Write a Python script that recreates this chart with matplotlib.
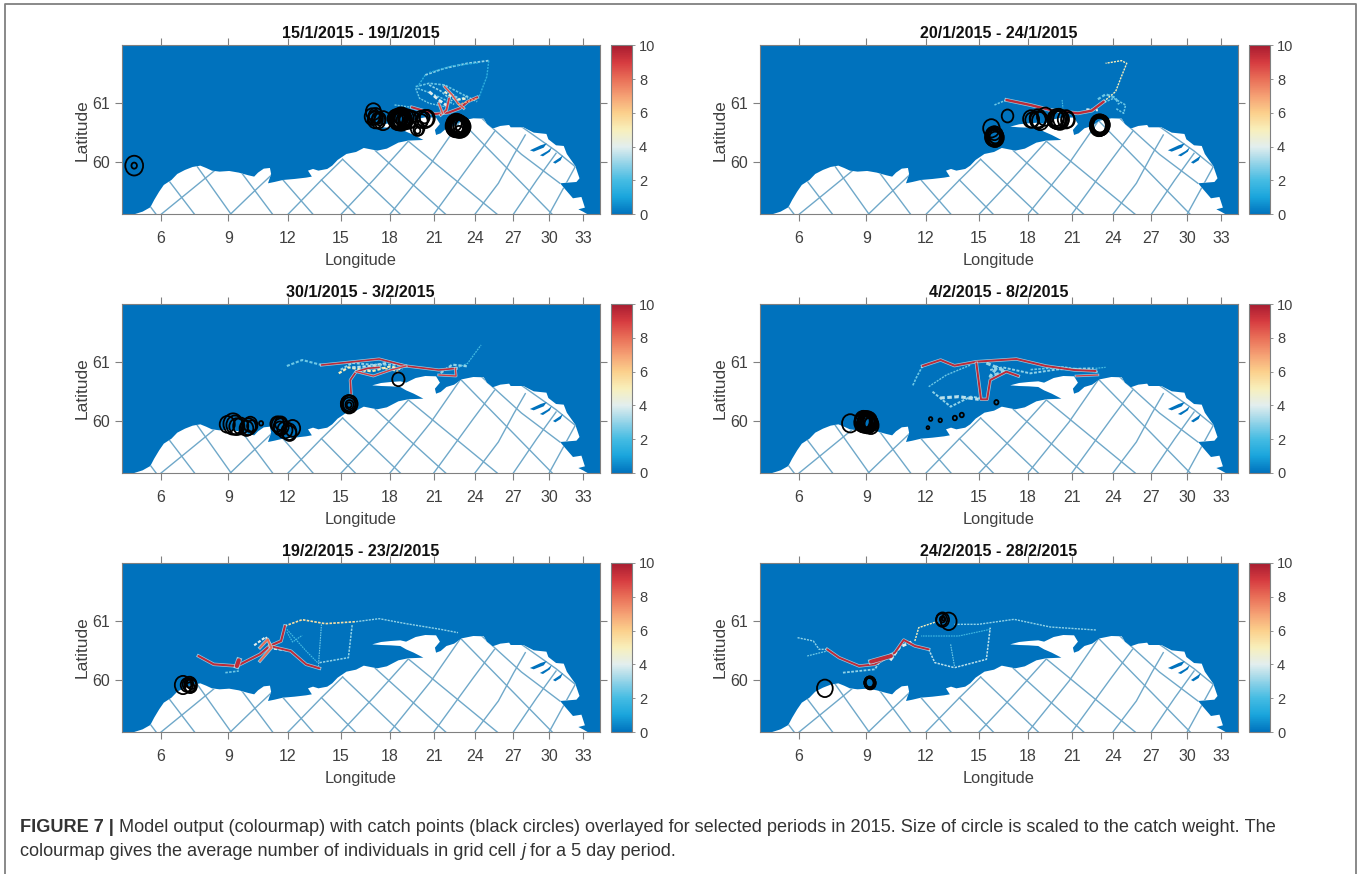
"""Model output maps with catch points for selected periods in 2015"""

import matplotlib
matplotlib.use('Agg')
import matplotlib.pyplot as plt
from matplotlib.colors import LinearSegmentedColormap, Normalize
from matplotlib.lines import Line2D
from matplotlib.patches import Polygon
from matplotlib.path import Path
from matplotlib.transforms import Affine2D

plt.rcParams['font.family'] = ['Liberation Sans', 'DejaVu Sans']

# map is in projected units, longitude ticks are not evenly spaced
MAP_W = 1243
MAP_H = 507
LON_POS = [103, 278, 433, 571, 698, 812, 919, 1019, 1112, 1200]
LON_LABELS = [6, 9, 12, 15, 18, 21, 24, 27, 30, 33]
LAT_POS = [156, 333]
LAT_LABELS = [60, 61]

TITLES = ['15/1/2015 - 19/1/2015', '20/1/2015 - 24/1/2015',
          '30/1/2015 - 3/2/2015', '4/2/2015 - 8/2/2015',
          '19/2/2015 - 23/2/2015', '24/2/2015 - 28/2/2015']

COAST = [(33, 0), (55, 8), (75, 21), (85, 43), (98, 68), (110, 88), (130, 103), (145, 121),
         (165, 133), (185, 142), (205, 146), (220, 139), (235, 131), (255, 128), (280, 130),
         (305, 125), (330, 117), (345, 113), (355, 125), (370, 137), (386, 139), (389, 121),
         (381, 93), (398, 97), (420, 103), (450, 106), (480, 110), (495, 113), (485, 131),
         (498, 136), (512, 131), (535, 136), (548, 146), (562, 163), (585, 181), (610, 187),
         (630, 199), (665, 191), (690, 197), (720, 215), (745, 221), (785, 223), (760, 238),
         (740, 248), (725, 258), (700, 260), (675, 261), (652, 263), (675, 270), (700, 273),
         (725, 275), (740, 271), (765, 285), (790, 291), (818, 290), (828, 271), (815, 253),
         (818, 238), (830, 243), (845, 258), (865, 265), (885, 281), (915, 288), (942, 287),
         (950, 271), (965, 257), (985, 265), (1008, 268), (1012, 261), (1045, 261), (1072, 245),
         (1105, 241), (1110, 225), (1130, 207), (1150, 205), (1158, 181), (1180, 145),
         (1191, 108), (1183, 97), (1140, 93), (1130, 108), (1150, 80), (1174, 48), (1196, 52),
         (1205, 20), (1188, 15), (1200, 8), (1212, 0)]

INLETS = [[(1062, 192), (1090, 207), (1106, 213), (1098, 200), (1072, 188)],
          [(1088, 177), (1108, 190), (1119, 201), (1114, 188), (1096, 174)],
          [(1122, 156), (1140, 170), (1148, 177), (1142, 162), (1128, 152)]]

GRID_LINES = [[(103, 0), (170, 63), (242, 131)], [(283, 0), (335, 58), (390, 118)],
              [(433, 0), (520, 103), (575, 165)], [(571, 0), (655, 103), (745, 218)],
              [(698, 0), (805, 153), (880, 278)], [(812, 0), (915, 163), (970, 248)],
              [(919, 0), (980, 93), (1020, 178), (1050, 238)], [(1019, 0), (1080, 103), (1130, 183)],
              [(1112, 0), (1180, 143)],
              [(75, 23), (90, 0)], [(125, 98), (190, 0)], [(197, 143), (285, 0)],
              [(310, 128), (393, 0)], [(420, 103), (498, 0)], [(520, 103), (608, 0)],
              [(575, 165), (725, 0)], [(660, 191), (843, 0)], [(745, 220), (977, 0)],
              [(880, 283), (1120, 0)], [(935, 290), (1040, 180), (1140, 93)],
              [(1040, 263), (1130, 190), (1180, 143)]]

# catch points as (x, y, size)
CATCH_1 = [(33, 146, 26), (33, 146, 8),
           (655, 308, 22), (652, 293, 22), (660, 283, 22), (680, 281, 25), (665, 288, 15),
           (657, 290, 18), (668, 280, 20), (661, 296, 20), (672, 286, 17),
           (720, 288, 25), (725, 283, 28), (730, 280, 25), (735, 283, 22), (745, 285, 25),
           (715, 283, 20), (725, 293, 20), (755, 285, 22), (733, 288, 15), (722, 286, 22),
           (728, 286, 26), (718, 280, 24), (732, 290, 24), (738, 278, 20), (712, 288, 22),
           (723, 278, 22), (727, 290, 27), (716, 286, 26), (740, 290, 22),
           (778, 285, 22), (795, 288, 22), (788, 290, 15), (780, 280, 18), (790, 286, 24),
           (770, 258, 20), (772, 253, 14), (770, 251, 8),
           (870, 268, 28), (875, 263, 28), (880, 265, 25), (888, 263, 22), (878, 248, 15),
           (865, 273, 22), (872, 266, 26), (877, 270, 25), (868, 260, 24), (882, 262, 28),
           (874, 258, 24), (886, 268, 20), (866, 265, 26), (871, 271, 27), (879, 259, 26),
           (869, 263, 28), (884, 265, 24), (873, 268, 22)]
CATCH_2 = [(645, 295, 17), (603, 258, 24),
           (611, 233, 25), (613, 238, 22), (609, 228, 22), (616, 233, 20), (611, 243, 18),
           (613, 225, 20), (606, 231, 22), (609, 236, 24), (614, 230, 24),
           (706, 286, 23), (724, 283, 23), (730, 280, 24), (743, 293, 24), (771, 290, 22),
           (776, 285, 26), (781, 283, 26), (797, 285, 24), (802, 283, 20), (774, 283, 24),
           (709, 283, 20), (724, 288, 24), (778, 288, 25), (770, 285, 24), (784, 286, 23),
           (885, 268, 24), (883, 270, 26), (887, 266, 26), (885, 263, 24), (889, 268, 24),
           (881, 266, 22), (885, 268, 20), (886, 272, 24), (884, 262, 24), (882, 264, 26),
           (888, 270, 25)]
CATCH_3 = [(720, 281, 18),
           (592, 206, 24), (592, 206, 18), (593, 205, 12), (592, 204, 7), (590, 208, 22),
           (594, 208, 22),
           (295, 144, 25), (275, 146, 22), (300, 139, 22), (290, 147, 28), (310, 141, 22),
           (330, 139, 22), (335, 146, 20), (325, 134, 20), (340, 141, 15), (363, 149, 6),
           (410, 144, 22), (415, 139, 22), (405, 147, 20), (415, 149, 18), (425, 129, 22),
           (437, 119, 20), (445, 134, 22), (435, 124, 22), (412, 134, 18)]
CATCH_4 = [(236, 149, 24),
           (270, 158, 25), (274, 154, 28), (278, 150, 26), (282, 146, 24), (286, 150, 22),
           (290, 142, 22), (284, 156, 24), (276, 160, 20), (268, 150, 24), (280, 156, 26),
           (272, 146, 22), (288, 154, 20), (274, 150, 21), (283, 151, 20), (278, 158, 23),
           (267, 155, 22), (291, 148, 20),
           (445, 162, 5), (470, 158, 5), (438, 136, 4), (508, 165, 6), (526, 174, 6), (616, 212, 6)]
CATCH_5 = [(160, 141, 24), (177, 143, 20), (180, 138, 18), (170, 141, 18), (178, 133, 14),
           (175, 148, 12), (182, 145, 14)]
CATCH_6 = [(170, 131, 23),
           (286, 148, 15), (288, 146, 16), (287, 150, 15), (285, 147, 13), (289, 149, 14),
           (287, 147, 16), (286, 150, 14),
           (476, 337, 19), (474, 337, 16), (492, 332, 23), (476, 338, 8), (478, 339, 4)]

# model tracks as (points, mean individuals per cell, line width)
TRACKS_1 = [([(765, 378), (775, 348), (800, 333), (840, 323)], 2.5, 1.0),
            ([(765, 383), (800, 393), (840, 388), (890, 358), (925, 338)], 2.5, 1.2),
            ([(790, 418), (840, 438), (900, 453), (955, 461)], 3.0, 1.3),
            ([(800, 425), (860, 445), (930, 455)], 1.5, 1.0),
            ([(955, 461), (950, 413), (930, 353)], 1.5, 1.0),
            ([(790, 418), (770, 383)], 1.5, 1.0),
            ([(710, 328), (755, 321)], 2.5, 1.0),
            ([(770, 378), (800, 365), (830, 350), (865, 330)], 2.5, 1.1),
            ([(800, 388), (830, 370), (860, 340)], 3, 1.2),
            ([(900, 355), (880, 345), (860, 360)], 3, 1.2),
            ([(800, 368), (825, 343), (850, 323)], 4, 2.0),
            ([(840, 368), (870, 343), (900, 348)], 4.5, 1.6),
            ([(755, 321), (785, 311), (815, 301), (850, 305), (880, 318), (900, 338), (925, 351)], 9.5, 1.5),
            ([(840, 383), (860, 358), (875, 333), (890, 318)], 8.5, 1.1),
            ([(852, 348), (845, 313), (830, 298)], 9, 1.3),
            ([(825, 333), (835, 303)], 8.5, 1.1),
            ([(875, 328), (925, 348)], 7, 1.1)]
TRACKS_2 = [([(880, 328), (921, 348), (952, 328), (947, 303), (926, 318)], 2.5, 1.1),
            ([(880, 345), (900, 360), (925, 350), (935, 330)], 2.5, 1.6),
            ([(850, 315), (880, 312)], 4, 1.5),
            ([(787, 343), (789, 318)], 2, 0.8),
            ([(611, 328), (642, 343)], 2.5, 1.1),
            ([(895, 338), (926, 368), (941, 413), (955, 453), (941, 461), (900, 453)], 5, 1.0),
            ([(642, 343), (704, 328), (756, 313), (828, 303), (864, 311), (895, 338)], 9.5, 1.7)]
TRACKS_3 = [([(430, 321), (470, 339), (520, 324)], 2.5, 1.5),
            ([(870, 314), (900, 329), (935, 384)], 2, 0.9),
            ([(565, 299), (590, 317), (650, 305), (700, 320), (730, 310)], 5, 1.6),
            ([(600, 317), (640, 320), (690, 330)], 3.5, 1.6),
            ([(570, 310), (600, 330), (650, 325), (730, 325)], 3, 1.4),
            ([(620, 300), (660, 320), (720, 305)], 5.5, 1.2),
            ([(830, 300), (860, 325), (900, 320)], 3, 1.6),
            ([(520, 324), (580, 331), (670, 342), (740, 321), (825, 309), (870, 314)], 9.5, 1.2),
            ([(825, 294), (870, 291), (868, 314)], 9, 1.0),
            ([(597, 239), (595, 279), (610, 304), (640, 314), (670, 317)], 9.5, 1.2),
            ([(610, 304), (655, 291), (700, 309), (740, 321)], 9, 1.0)]
TRACKS_4 = [([(424, 321), (409, 289), (398, 261)], 2.5, 1.2),
            ([(440, 259), (486, 294), (549, 324)], 2.5, 1.0),
            ([(450, 244), (497, 199), (549, 229), (580, 224)], 3, 1.4),
            ([(470, 225), (518, 229), (570, 221)], 3.5, 2.2),
            ([(600, 309), (632, 317), (704, 299), (776, 311), (869, 314)], 3, 1.4),
            ([(705, 310), (790, 318), (880, 303)], 2.5, 1.2),
            ([(590, 330), (640, 305), (600, 290), (620, 320)], 3, 2.2),
            ([(874, 314), (900, 317)], 2, 0.9),
            ([(424, 321), (471, 339), (507, 322), (564, 334), (668, 342), (745, 321), (818, 309), (874, 306)], 9.5, 1.4),
            ([(564, 329), (576, 221), (592, 221), (600, 279), (642, 304), (673, 291)], 9.5, 1.4),
            ([(823, 291), (880, 294)], 9, 0.9)]
TRACKS_5 = [([(610, 331), (670, 340), (740, 325), (830, 308), (875, 298)], 3, 1.0),
            ([(520, 323), (512, 198)], 2.5, 0.8),
            ([(515, 208), (590, 223), (600, 323)], 3, 1.1),
            ([(430, 308), (480, 243), (510, 208)], 2, 0.8),
            ([(430, 300), (445, 270), (470, 290)], 2, 0.8),
            ([(270, 178), (305, 183)], 2.5, 1.2),
            ([(425, 318), (470, 337), (530, 325), (610, 331)], 5.5, 1.2),
            ([(345, 260), (375, 285), (395, 250), (430, 245)], 4, 1.5),
            ([(200, 228), (240, 203), (300, 198), (360, 233), (385, 258), (415, 273), (425, 318)], 9.5, 1.5),
            ([(385, 258), (440, 243), (480, 203), (515, 191)], 9.5, 1.4),
            ([(300, 198), (305, 215)], 9.5, 3.0),
            ([(360, 253), (380, 278), (390, 253), (360, 213)], 8, 1.4)]
TRACKS_6 = [([(99, 283), (140, 273), (155, 248), (176, 248)], 3, 1.0),
            ([(124, 228), (176, 243)], 2.5, 0.9),
            ([(217, 178), (300, 188), (311, 208)], 3, 1.3),
            ([(340, 215), (365, 255), (395, 270)], 4, 2.0),
            ([(440, 248), (456, 208), (507, 193), (590, 218), (600, 313)], 3.5, 1.1),
            ([(404, 273), (414, 313), (466, 333)], 5, 1.0),
            ([(507, 323), (569, 323), (662, 338), (756, 315), (875, 306)], 3, 1.0),
            ([(497, 263), (507, 198)], 2.5, 0.8),
            ([(600, 308), (518, 288), (420, 288)], 2, 0.8),
            ([(176, 248), (207, 223), (259, 198), (300, 203), (352, 238), (375, 276), (404, 258), (440, 248)], 9.5, 1.4),
            ([(290, 211), (342, 228)], 9.5, 2.8)]

CATCHES = [CATCH_1, CATCH_2, CATCH_3, CATCH_4, CATCH_5, CATCH_6]
TRACKS = [TRACKS_1, TRACKS_2, TRACKS_3, TRACKS_4, TRACKS_5, TRACKS_6]

CMAP_COLORS = ['#0072bd', '#1aa5dc', '#45bce3', '#93d3e8', '#e2eeee', '#f8efbb',
               '#fbd08c', '#f5a074', '#e96f58', '#d63b40', '#a81c30']

LEFTS = [121.5, 759.5]
TOPS = [45.3, 304, 563]
AX_W = 478
AX_H = 169
FIG_W = 1359
FIG_H = 874
SEA = CMAP_COLORS[0]
TICK_COLOR = '#404040'

cmap = LinearSegmentedColormap.from_list('model', CMAP_COLORS)
norm = Normalize(0, 10)
ring = Path.unit_circle().transformed(Affine2D().scale(0.9, 1.0))

fig = plt.figure(figsize=(FIG_W / 100, FIG_H / 100), dpi=100)

for i, title in enumerate(TITLES):
    left = LEFTS[i % 2]
    top = TOPS[i // 2]
    ax = fig.add_axes([left / FIG_W, 1 - (top + AX_H) / FIG_H, AX_W / FIG_W, AX_H / FIG_H])
    ax.set_facecolor(SEA)
    ax.set_xlim(0, MAP_W)
    ax.set_ylim(0, MAP_H)

    land = Polygon(COAST, closed=True, facecolor='white', edgecolor='none', zorder=1)
    ax.add_patch(land)
    for g in GRID_LINES:
        xs, ys = zip(*g)
        line, = ax.plot(xs, ys, color='#6fa8c9', lw=1.0, zorder=2)
        line.set_clip_path(land)
    for inlet in INLETS:
        ax.add_patch(Polygon(inlet, closed=True, facecolor=SEA, edgecolor='none', zorder=3))

    for pts, value, width in TRACKS[i]:
        xs, ys = zip(*pts)
        if value >= 8:
            # dense strands have a paler fringe around the core
            ax.plot(xs, ys, color=cmap(norm(3.5)), lw=width + 1.0, zorder=4, alpha=0.8)
            ax.plot(xs, ys, color=cmap(norm(value)), lw=width, zorder=4, solid_capstyle='round')
        else:
            ax.plot(xs, ys, color=cmap(norm(value)), lw=width, zorder=4, ls=(0, (1.5, 0.8)))

    cx, cy, size = zip(*CATCHES[i])
    ax.scatter(cx, cy, s=[0.3 * r ** 2 for r in size], marker=ring, facecolors='none',
               edgecolors='black', linewidths=1.3, zorder=5)

    ax.set_xticks(LON_POS, LON_LABELS)
    ax.set_yticks(LAT_POS, LAT_LABELS)
    ax.tick_params(direction='out', length=5, width=0.8, color='#808080', labelcolor=TICK_COLOR,
                   labelsize=11.5, top=True, right=True, pad=7)
    ax.tick_params(axis='y', pad=3)
    for spine in ax.spines.values():
        spine.set_color('#808080')
        spine.set_linewidth(0.8)
    ax.set_xlabel('Longitude', fontsize=11.8, color=TICK_COLOR, labelpad=5)
    ax.set_ylabel('Latitude', fontsize=12.5, color=TICK_COLOR, labelpad=2)
    ax.set_title(title, fontsize=11.5, fontweight='bold', color='#111111', pad=5)

    cax = fig.add_axes([(left + 489.5) / FIG_W, 1 - (top + AX_H) / FIG_H, 21 / FIG_W, AX_H / FIG_H])
    sm = plt.cm.ScalarMappable(norm=norm, cmap=cmap)
    cb = fig.colorbar(sm, cax=cax, ticks=[0, 2, 4, 6, 8, 10])
    cb.ax.tick_params(length=2, width=0.6, color='#808080', labelcolor=TICK_COLOR, labelsize=10.5, pad=3)
    cb.outline.set_edgecolor('#808080')
    cb.outline.set_linewidth(0.8)

# page frame, open at the bottom
frame_x = [5 / FIG_W, 5 / FIG_W, 1356 / FIG_W, 1356 / FIG_W]
frame_y = [0, 1 - 4 / FIG_H, 1 - 4 / FIG_H, 0]
fig.add_artist(Line2D(frame_x, frame_y, color='#808080', lw=1.3))

# caption is built from runs so bold and italic parts can sit in the same line
renderer = fig.canvas.get_renderer()
CAPTION_1 = [('FIGURE 7 | ', 'bold', 'normal'),
             ('Model output (colourmap) with catch points (black circles) overlayed for selected '
              'periods in 2015. Size of circle is scaled to the catch weight. The', 'normal', 'normal')]
CAPTION_2 = [('colourmap gives the average number of individuals in grid cell ', 'normal', 'normal'),
             ('j', 'normal', 'italic'),
             (' for a 5 day period.', 'normal', 'normal')]
for runs, base in [(CAPTION_1, 832), (CAPTION_2, 856)]:
    x = 20
    for txt, weight, style in runs:
        t = fig.text(x / FIG_W, 1 - base / FIG_H, txt.replace(' ', '\u00a0'), fontsize=13.1,
                     fontweight=weight, fontstyle=style, color='#333333', va='baseline')
        x = t.get_window_extent(renderer).x1

fig.savefig('out.png', dpi=100)
